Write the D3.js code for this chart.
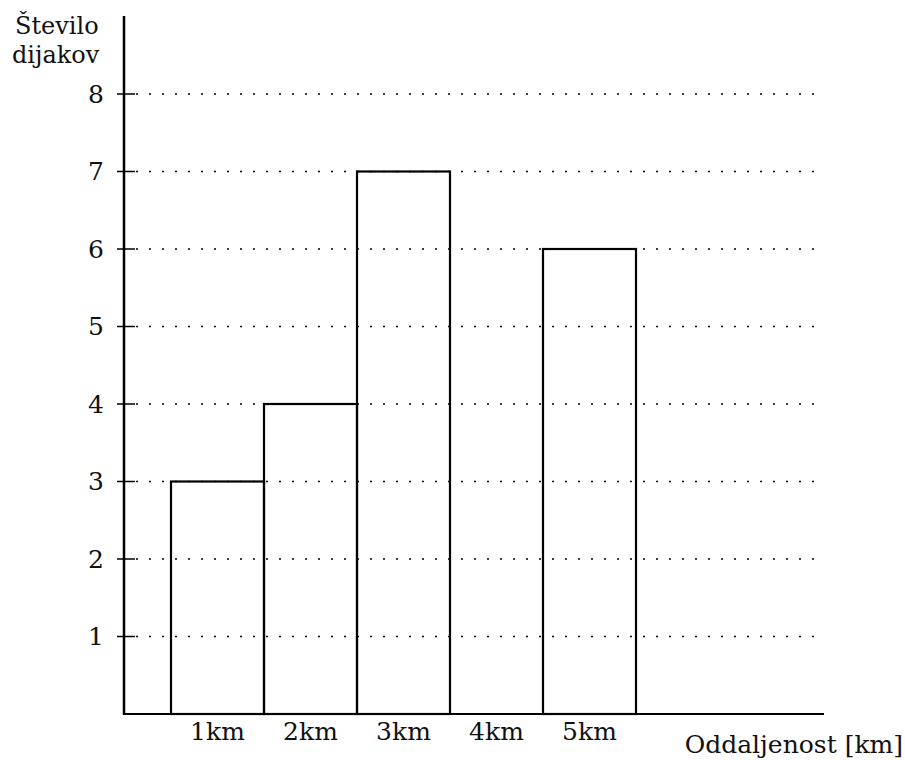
<!DOCTYPE html>
<html>
<head>
<meta charset="utf-8">
<script src="https://cdn.jsdelivr.net/npm/d3@7"></script>
<style>
  body { margin: 0; background: #fff; }
  text { font-family: "DejaVu Serif", "Liberation Serif", serif; fill: #111; }
</style>
</head>
<body>
<div id="chart"></div>
<script>
// data
const categories = ["1km", "2km", "3km", "4km", "5km"];
const counts = [3, 4, 7, 0, 6];
const yTicks = [1, 2, 3, 4, 5, 6, 7, 8];

// layout
const width = 905, height = 760;
const axisX = 124, axisY = 714;
const fontSize = 25;

const svg = d3.select("#chart").append("svg")
    .attr("width", width)
    .attr("height", height);

const x = d3.scaleBand()
    .domain(categories)
    .range([171, 636])
    .paddingInner(0)
    .paddingOuter(0);

const y = d3.scaleLinear()
    .domain([0, 8])
    .range([axisY, 94]);

// bars
svg.append("g").selectAll("rect")
  .data(categories)
  .join("rect")
    .attr("x", d => x(d))
    .attr("y", (d, i) => y(counts[i]))
    .attr("width", x.bandwidth())
    .attr("height", (d, i) => axisY - y(counts[i]))
    .attr("fill", "none")
    .attr("stroke", "#000")
    .attr("stroke-width", 2.2);

// dotted grid lines over bars
svg.append("g").selectAll("line")
  .data(yTicks)
  .join("line")
    .attr("x1", 136)
    .attr("x2", 822)
    .attr("y1", d => y(d))
    .attr("y2", d => y(d))
    .attr("stroke", "#000")
    .attr("stroke-width", 1.5)
    .attr("stroke-dasharray", "2,11");

// y axis
const yAxis = d3.axisLeft(y)
    .tickValues(yTicks)
    .tickSize(0)
    .tickPadding(20)
    .tickFormat(d3.format("d"));

const gy = svg.append("g")
    .attr("transform", "translate(" + axisX + ",0)")
    .call(yAxis);
gy.select(".domain").remove();
gy.selectAll("text")
    .attr("font-size", fontSize)
    .attr("font-family", "DejaVu Serif");

// small tick marks crossing the axis
svg.append("g").selectAll("line")
  .data(yTicks)
  .join("line")
    .attr("x1", axisX - 7)
    .attr("x2", axisX + 11)
    .attr("y1", d => y(d))
    .attr("y2", d => y(d))
    .attr("stroke", "#000")
    .attr("stroke-width", 1.5);

svg.append("line")
    .attr("x1", axisX).attr("x2", axisX)
    .attr("y1", 16).attr("y2", axisY + 1)
    .attr("stroke", "#000")
    .attr("stroke-width", 2.5);

// x axis
svg.append("line")
    .attr("x1", axisX - 1).attr("x2", 824)
    .attr("y1", axisY).attr("y2", axisY)
    .attr("stroke", "#000")
    .attr("stroke-width", 2);

svg.append("g").selectAll("text")
  .data(categories)
  .join("text")
    .attr("x", d => x(d) + x.bandwidth() / 2)
    .attr("y", 740)
    .attr("text-anchor", "middle")
    .attr("font-size", fontSize)
    .text(d => d);

// titles
svg.append("text")
    .attr("x", 903)
    .attr("y", 753)
    .attr("text-anchor", "end")
    .attr("font-size", fontSize)
    .text("Oddaljenost [km]");

svg.append("text")
    .attr("x", 15)
    .attr("y", 34)
    .attr("font-size", 24)
    .text("Število");

svg.append("text")
    .attr("x", 12)
    .attr("y", 63)
    .attr("font-size", 24)
    .text("dijakov");
</script>
</body>
</html>
